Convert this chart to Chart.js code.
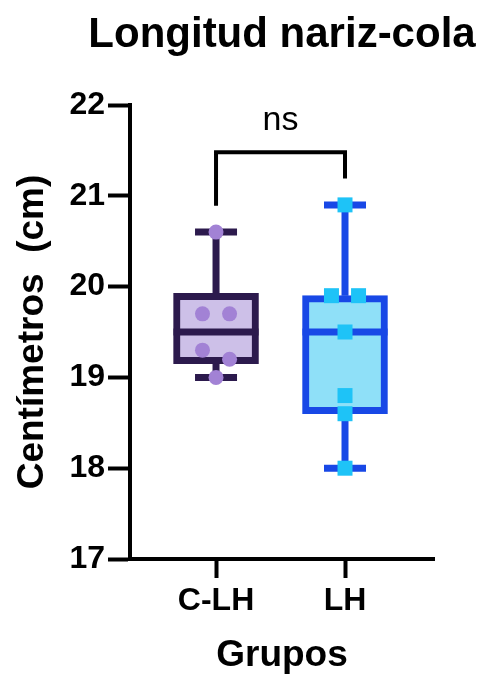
<!DOCTYPE html>
<html>
<head>
<meta charset="utf-8">
<script src="https://cdn.jsdelivr.net/npm/chart.js@4.4.0/dist/chart.umd.min.js"></script>
<style>
  html, body { margin: 0; padding: 0; background: #fff; }
  #wrap { width: 485px; height: 678px; }
</style>
</head>
<body>
<div id="wrap"><canvas id="chart"></canvas></div>
<script>
// Data
const groups = ['C-LH', 'LH'];
const clhValues = [20.6, 19.7, 19.7, 19.3, 19.2, 19.0];
const lhValues = [20.9, 19.9, 19.9, 19.5, 18.8, 18.6, 18.0];
const yTicks = [17, 18, 19, 20, 21, 22];
const significance = 'ns';

const strokeColors = ['#2c1a4d', '#1848e6'];
const fillColors = ['#cdc0e8', '#8fe0f8'];
const pointColors = ['#a282d5', '#1ec3f7'];

const FONT = 'Liberation Sans, Arial, Helvetica, sans-serif';

// quartile like GraphPad: position (n+1)p
function quantile(values, p) {
  const s = values.slice().sort((a, b) => a - b);
  const pos = (s.length + 1) * p - 1;
  const lo = Math.max(0, Math.floor(pos));
  const hi = Math.min(s.length - 1, lo + 1);
  const frac = pos - lo;
  return s[lo] + (s[hi] - s[lo]) * frac;
}

function summary(values) {
  return {
    min: Math.min(...values),
    max: Math.max(...values),
    q1: quantile(values, 0.25),
    median: quantile(values, 0.5),
    q3: quantile(values, 0.75)
  };
}

const stats = [summary(clhValues), summary(lhValues)];

// spread overlapping points sideways (simple column scatter)
function spreadPoints(values, groupIndex) {
  const s = values.slice().sort((a, b) => b - a);
  const out = [];
  let cluster = [];
  const flush = () => {
    cluster.forEach((v, i) => {
      out.push({ x: groupIndex + (i - (cluster.length - 1) / 2) * 0.21, y: v });
    });
    cluster = [];
  };
  s.forEach(v => {
    if (cluster.length && Math.abs(cluster[cluster.length - 1] - v) >= 0.15) flush();
    cluster.push(v);
  });
  flush();
  return out;
}

// whiskers and medians, drawn right after the boxes
const boxExtras = {
  id: 'boxExtras',
  afterDatasetDraw(chart, args) {
    if (args.index !== 0) return;
    const ctx = chart.ctx;
    const y = chart.scales.y;
    const bars = args.meta.data;
    ctx.save();
    ctx.lineCap = 'butt';
    stats.forEach((st, i) => {
      const bar = bars[i];
      const cx = bar.x;
      const half = bar.width / 2;
      ctx.strokeStyle = strokeColors[i];
      ctx.lineWidth = 7;
      ctx.beginPath();
      // median
      ctx.moveTo(cx - half, y.getPixelForValue(st.median));
      ctx.lineTo(cx + half, y.getPixelForValue(st.median));
      // whiskers
      ctx.moveTo(cx, y.getPixelForValue(st.q3));
      ctx.lineTo(cx, y.getPixelForValue(st.max));
      ctx.moveTo(cx, y.getPixelForValue(st.q1));
      ctx.lineTo(cx, y.getPixelForValue(st.min));
      // caps
      ctx.moveTo(cx - 21, y.getPixelForValue(st.max));
      ctx.lineTo(cx + 21, y.getPixelForValue(st.max));
      ctx.moveTo(cx - 21, y.getPixelForValue(st.min));
      ctx.lineTo(cx + 21, y.getPixelForValue(st.min));
      ctx.stroke();
    });
    ctx.restore();
  }
};

// title and significance bracket
const annotations = {
  id: 'annotations',
  afterDraw(chart) {
    const ctx = chart.ctx;
    const area = chart.chartArea;
    const x = chart.scales.x;
    const y = chart.scales.y;
    ctx.save();
    ctx.fillStyle = '#000';
    ctx.textAlign = 'center';
    ctx.textBaseline = 'alphabetic';
    ctx.font = 'bold 42px ' + FONT;
    ctx.fillText('Longitud nariz-cola', (area.left + area.right) / 2, 47);

    const topAll = Math.max(stats[0].max, stats[1].max);
    const barY = y.getPixelForValue(topAll + 0.58);
    const x0 = x.getPixelForValue(0);
    const x1 = x.getPixelForValue(1);
    ctx.strokeStyle = '#000';
    ctx.lineWidth = 4;
    ctx.lineJoin = 'miter';
    ctx.beginPath();
    ctx.moveTo(x0, y.getPixelForValue(stats[0].max + 0.29));
    ctx.lineTo(x0, barY);
    ctx.lineTo(x1, barY);
    ctx.lineTo(x1, y.getPixelForValue(stats[1].max + 0.29));
    ctx.stroke();

    ctx.font = '34px ' + FONT;
    ctx.fillText(significance, (x0 + x1) / 2, barY - 22);
    ctx.restore();
  }
};

new Chart(document.getElementById('chart'), {
  type: 'bar',
  data: {
    datasets: [
      {
        type: 'bar',
        data: stats.map((st, i) => ({ x: i, y: [st.q1, st.q3] })),
        backgroundColor: fillColors,
        borderColor: strokeColors,
        borderWidth: 7,
        borderSkipped: false,
        barThickness: 85,
        order: 2
      },
      {
        type: 'scatter',
        data: spreadPoints(clhValues, 0),
        pointStyle: 'circle',
        pointRadius: 7.5,
        backgroundColor: pointColors[0],
        borderWidth: 0,
        order: 1
      },
      {
        type: 'scatter',
        data: spreadPoints(lhValues, 1),
        pointStyle: 'rect',
        pointRadius: 10.6,
        backgroundColor: pointColors[1],
        borderWidth: 0,
        order: 0
      }
    ]
  },
  options: {
    responsive: true,
    maintainAspectRatio: false,
    animation: false,
    layout: { padding: { top: 105, right: 51, left: 0, bottom: 0 } },
    plugins: {
      legend: { display: false },
      tooltip: { enabled: false }
    },
    scales: {
      x: {
        type: 'linear',
        min: -0.667,
        max: 1.69,
        offset: false,
        afterBuildTicks: scale => { scale.ticks = groups.map((g, i) => ({ value: i })); },
        afterFit: scale => { scale.height = 119; },
        ticks: {
          callback: value => groups[value],
          color: '#000',
          font: { family: FONT, size: 32, weight: 'bold' },
          padding: 4,
          maxRotation: 0
        },
        grid: {
          offset: false,
          drawOnChartArea: false,
          drawTicks: true,
          tickLength: 19,
          tickWidth: 4,
          tickColor: '#000'
        },
        border: { color: '#000', width: 4 },
        title: {
          display: true,
          text: 'Grupos',
          color: '#000',
          font: { family: FONT, size: 37, weight: 'bold' },
          padding: { top: 0, bottom: 0 }
        }
      },
      y: {
        min: 17,
        max: 22,
        afterBuildTicks: scale => { scale.ticks = yTicks.map(v => ({ value: v })); },
        afterFit: scale => { scale.width = 130; },
        ticks: {
          color: '#000',
          font: { family: FONT, size: 32, weight: 'bold' },
          padding: 3
        },
        grid: {
          drawOnChartArea: false,
          drawTicks: true,
          tickLength: 22,
          tickWidth: 4,
          tickColor: '#000'
        },
        border: { color: '#000', width: 4 },
        title: {
          display: true,
          text: 'Centímetros  (cm)',
          color: '#000',
          font: { family: FONT, size: 37, weight: 'bold' },
          padding: { top: 11, bottom: 0 }
        }
      }
    }
  },
  plugins: [boxExtras, annotations]
});
</script>
</body>
</html>
